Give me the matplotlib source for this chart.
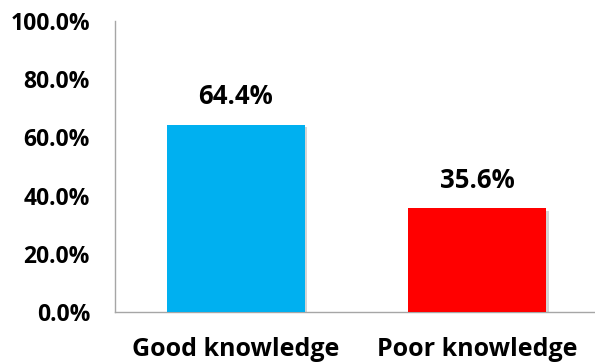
import matplotlib
matplotlib.use("Agg")
import matplotlib.pyplot as plt
import matplotlib.patheffects as pe

categories = ["Good knowledge", "Poor knowledge"]
values = [64.4, 35.6]
colors = ["#00B0F0", "#FF0000"]
yticks = [0, 20, 40, 60, 80, 100]

plt.rcParams['font.family'] = ['Open Sans', 'DejaVu Sans']

fig = plt.figure(figsize=(5.95, 3.64), dpi=100)
ax = fig.add_axes([115/595, 1-312/364, (598-115)/595, (312-21)/364])

x = range(len(categories))
bars = ax.bar(x, values, width=0.57, color=colors, zorder=3)
for b in bars:
    b.set_path_effects([pe.SimplePatchShadow(offset=(2, -2), shadow_rgbFace='#888888', alpha=0.35), pe.Normal()])

for xi, v in zip(x, values):
    ax.text(xi, v + 5.0, f"{v:.1f}%", ha='center', va='bottom', fontsize=18.5, fontweight='bold')

ax.set_xlim(-0.5, len(categories) - 0.5)
ax.set_ylim(0, 100)
ax.set_yticks(yticks)
ax.set_yticklabels([f"{t:.1f}%" for t in yticks], fontsize=16.5, fontweight='bold')
ax.set_xticks(list(x))
ax.set_xticklabels(categories, fontsize=18, fontweight='bold')
ax.tick_params(axis='both', length=0)
ax.tick_params(axis='y', pad=18)
ax.tick_params(axis='x', pad=18)
for s in ['top', 'right']:
    ax.spines[s].set_visible(False)
for s in ['left', 'bottom']:
    ax.spines[s].set_color('#A6A6A6')
    ax.spines[s].set_linewidth(1)

fig.savefig("out.png", dpi=100)
